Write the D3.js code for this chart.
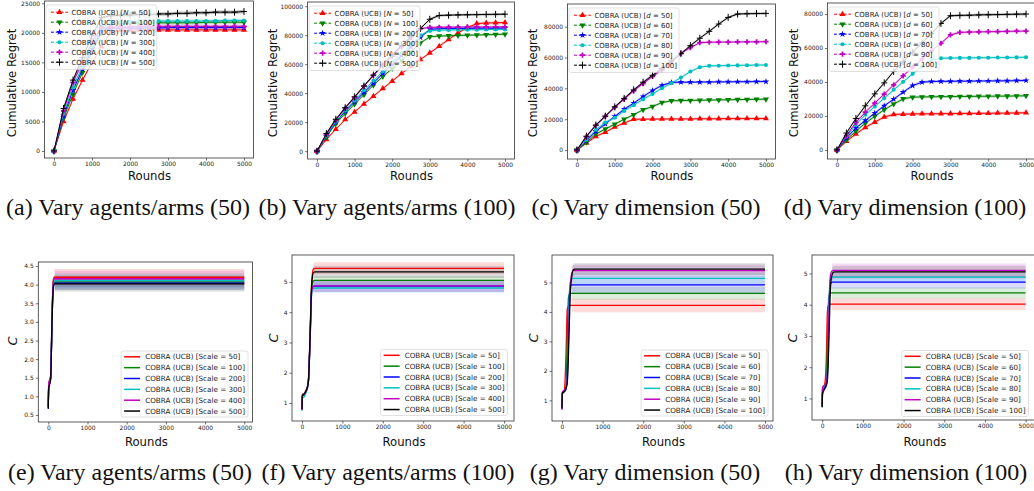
<!DOCTYPE html>
<html>
<meta charset='utf-8'>
<head>
<title>COBRA (UCB) regret and C</title>
<script src='https://d3js.org/d3.v7.min.js'></script>
<style>
body { margin: 0; background: #fff; }
</style>
</head>
<body>
<div id='fig'></div>
<script>

// ---- data ----
// top row: cumulative regret (thousands) every 250 rounds
var rounds = [0, 250, 500, 750, 1000, 1250, 1500, 1750, 2000, 2250, 2500, 2750, 3000, 3250, 3500, 3750, 4000, 4250, 4500, 4750, 5000];
var agentSizes = [50, 100, 200, 300, 400, 500];
var dims = [50, 60, 70, 80, 90, 100];

var regretA = [
  [0, 5.0, 8.8, 12.0, 15.0, 17.7, 20.2, 20.4, 20.4, 20.5, 20.5, 20.5, 20.5, 20.5, 20.5, 20.5, 20.5, 20.5, 20.5, 20.5, 20.5],
  [0, 5.6, 9.6, 13.3, 16.8, 20.0, 21.4, 21.5, 21.6, 21.6, 21.6, 21.7, 21.7, 21.7, 21.7, 21.7, 21.8, 21.8, 21.8, 21.8, 21.8],
  [0, 6.0, 10.3, 13.8, 17.3, 20.3, 20.8, 20.8, 20.8, 20.8, 20.8, 20.8, 20.9, 20.9, 20.9, 20.9, 20.9, 20.9, 20.9, 20.9, 20.9],
  [0, 6.3, 10.8, 14.3, 17.8, 21.0, 21.8, 21.9, 21.9, 22.0, 22.0, 22.0, 22.0, 22.0, 22.0, 22.0, 22.0, 22.0, 22.1, 22.1, 22.1],
  [0, 6.8, 11.6, 15.0, 18.5, 20.9, 21.0, 21.0, 21.0, 21.1, 21.1, 21.1, 21.1, 21.1, 21.1, 21.1, 21.1, 21.1, 21.1, 21.1, 21.1],
  [0, 7.2, 12.0, 15.8, 19.5, 22.6, 22.9, 23.0, 23.0, 23.1, 23.1, 23.2, 23.2, 23.3, 23.3, 23.4, 23.4, 23.5, 23.5, 23.5, 23.6]
];
var regretB = [
  [0, 8.0, 15.2, 21.8, 27.1, 32.6, 37.9, 43.2, 48.3, 53.6, 58.6, 63.2, 67.8, 72.4, 77.0, 81.6, 85.3, 88.0, 88.4, 88.6, 88.7],
  [0, 10.0, 19.0, 26.0, 32.5, 39.0, 45.5, 51.5, 57.0, 62.5, 68.5, 74.7, 78.9, 79.4, 79.6, 79.8, 80.0, 80.1, 80.3, 80.5, 80.7],
  [0, 10.5, 20.0, 27.5, 34.0, 40.5, 47.0, 53.6, 60.0, 66.0, 72.0, 78.4, 84.0, 84.5, 84.6, 84.7, 84.7, 84.8, 84.8, 84.8, 84.9],
  [0, 10.7, 20.5, 28.0, 35.0, 42.0, 48.5, 55.0, 61.5, 67.5, 73.5, 80.0, 83.0, 83.5, 83.6, 83.7, 83.8, 83.8, 83.9, 83.9, 84.0],
  [0, 11.5, 21.5, 29.5, 37.0, 44.8, 52.2, 59.0, 65.5, 72.0, 78.5, 84.5, 85.4, 85.5, 85.6, 85.6, 85.7, 85.7, 85.7, 85.8, 85.8],
  [0, 12.2, 22.0, 30.0, 37.5, 45.0, 52.5, 59.5, 66.5, 73.0, 79.0, 84.6, 91.0, 93.6, 93.8, 94.0, 94.1, 94.2, 94.3, 94.4, 94.5]
];
var regretC = [
  [0, 4.5, 8.8, 11.6, 14.9, 17.5, 20.0, 20.0, 20.1, 20.1, 20.2, 20.2, 20.2, 20.3, 20.3, 20.3, 20.4, 20.4, 20.4, 20.5, 20.5],
  [0, 5.0, 10.4, 13.6, 16.8, 20.0, 22.9, 26.1, 28.2, 30.8, 31.9, 32.1, 32.2, 32.3, 32.4, 32.5, 32.6, 32.7, 32.8, 32.9, 33.0],
  [0, 6.0, 12.1, 17.0, 21.8, 26.5, 30.4, 34.7, 38.6, 42.0, 43.8, 44.0, 44.0, 44.1, 44.1, 44.2, 44.2, 44.3, 44.3, 44.4, 44.4],
  [0, 6.5, 13.2, 17.9, 20.9, 25.4, 29.1, 33.0, 36.4, 40.1, 43.3, 47.0, 50.9, 53.7, 54.6, 54.7, 54.8, 54.9, 55.0, 55.1, 55.2],
  [0, 8.5, 16.0, 21.8, 27.6, 33.0, 38.4, 43.1, 47.7, 52.0, 57.5, 62.7, 66.4, 69.6, 69.9, 70.0, 70.0, 70.1, 70.2, 70.2, 70.3],
  [0, 9.0, 16.2, 22.0, 28.0, 33.5, 39.0, 44.0, 48.5, 53.0, 57.8, 62.5, 67.7, 72.5, 77.0, 81.7, 86.0, 88.2, 88.4, 88.5, 88.6]
];
var regretD = [
  [0, 5.1, 9.4, 13.3, 16.4, 19.4, 20.9, 21.1, 21.2, 21.3, 21.3, 21.4, 21.4, 21.5, 21.5, 21.6, 21.6, 21.7, 21.7, 21.8, 21.9],
  [0, 6.0, 11.0, 15.8, 19.8, 23.7, 27.0, 30.1, 31.1, 31.2, 31.3, 31.4, 31.4, 31.5, 31.5, 31.6, 31.6, 31.7, 31.7, 31.8, 31.9],
  [0, 7.0, 12.9, 17.4, 21.7, 26.0, 29.9, 34.0, 37.9, 39.9, 40.3, 40.4, 40.4, 40.5, 40.5, 40.6, 40.6, 40.7, 40.7, 40.8, 40.9],
  [0, 8.0, 14.9, 20.7, 25.6, 30.5, 35.4, 40.1, 44.8, 49.1, 53.0, 54.0, 54.1, 54.2, 54.2, 54.3, 54.3, 54.4, 54.4, 54.5, 54.6],
  [0, 8.5, 16.2, 22.3, 27.6, 32.9, 38.3, 43.6, 48.7, 53.4, 58.5, 62.8, 67.7, 69.2, 69.4, 69.5, 69.6, 69.7, 69.8, 69.9, 70.0],
  [0, 10.0, 18.5, 26.0, 33.0, 39.5, 46.2, 52.0, 57.5, 63.0, 68.5, 74.5, 79.0, 79.2, 79.3, 79.5, 79.6, 79.7, 79.8, 79.9, 80.0]
];
// half width of the shaded band (thousands)
var bandA = [0.3, 0.3, 0.3, 0.3, 0.3, 0.3];
var bandB = [0.8, 0.8, 0.8, 0.8, 0.8, 0.8];
var bandC = [0.8, 0.8, 0.8, 0.8, 0.8, 0.8];
var bandD = [0.8, 0.8, 0.8, 0.8, 0.8, 0.8];

// bottom row: C over rounds
var cRounds = [0, 10, 60, 100, 130, 160, 200, 240, 280, 320, 5000];
var cE = [
  [0.70, 1.30, 1.55, 3.40, 4.15, 4.20, 4.20, 4.20, 4.20, 4.20, 4.20],
  [0.72, 1.25, 1.50, 3.30, 4.02, 4.07, 4.07, 4.07, 4.07, 4.07, 4.07],
  [0.66, 1.22, 1.48, 3.20, 3.98, 4.04, 4.04, 4.04, 4.04, 4.04, 4.04],
  [0.70, 1.25, 1.50, 3.30, 4.05, 4.11, 4.11, 4.11, 4.11, 4.11, 4.11],
  [0.74, 1.35, 1.55, 3.40, 4.10, 4.16, 4.16, 4.16, 4.16, 4.16, 4.16],
  [0.68, 1.20, 1.45, 3.20, 3.95, 4.02, 4.02, 4.02, 4.02, 4.02, 4.02]
];
var cF = [
  [0.78, 1.28, 1.32, 1.42, 1.52, 1.78, 3.30, 5.00, 5.42, 5.45, 5.45],
  [0.80, 1.25, 1.30, 1.40, 1.50, 1.75, 3.20, 4.80, 5.03, 5.05, 5.05],
  [0.78, 1.22, 1.28, 1.38, 1.48, 1.72, 3.10, 4.70, 4.85, 4.86, 4.86],
  [0.74, 1.15, 1.22, 1.35, 1.45, 1.70, 3.00, 4.60, 4.79, 4.80, 4.80],
  [0.77, 1.25, 1.30, 1.40, 1.50, 1.74, 3.10, 4.70, 4.86, 4.87, 4.87],
  [0.80, 1.25, 1.30, 1.40, 1.50, 1.75, 3.20, 4.90, 5.30, 5.33, 5.33]
];
var cG = [
  [0.72, 1.25, 1.35, 2.60, 4.10, 4.20, 4.22, 4.22, 4.22, 4.22, 4.22],
  [0.70, 1.25, 1.32, 1.45, 3.00, 4.50, 4.62, 4.63, 4.63, 4.63, 4.63],
  [0.72, 1.22, 1.30, 1.40, 1.90, 3.80, 4.85, 4.92, 4.92, 4.92, 4.92],
  [0.72, 1.25, 1.32, 1.42, 1.80, 3.60, 4.95, 5.12, 5.14, 5.14, 5.14],
  [0.68, 1.28, 1.35, 1.45, 1.70, 3.00, 4.80, 5.30, 5.40, 5.40, 5.40],
  [0.75, 1.25, 1.30, 1.40, 1.60, 2.60, 4.50, 5.20, 5.43, 5.45, 5.45]
];
var cH = [
  [0.75, 1.35, 1.45, 2.20, 3.80, 4.02, 4.02, 4.02, 4.02, 4.02, 4.02],
  [0.72, 1.20, 1.35, 1.50, 2.80, 4.20, 4.37, 4.38, 4.38, 4.38, 4.38],
  [0.75, 1.25, 1.35, 1.45, 1.80, 3.60, 4.65, 4.72, 4.72, 4.72, 4.72],
  [0.75, 1.30, 1.40, 1.50, 2.00, 3.80, 4.80, 4.88, 4.88, 4.88, 4.88],
  [0.78, 1.35, 1.42, 1.50, 1.90, 3.50, 4.90, 5.08, 5.10, 5.10, 5.10],
  [0.72, 1.15, 1.30, 1.40, 1.60, 2.60, 4.40, 4.95, 5.04, 5.05, 5.05]
];
var bandE = [0.22, 0.20, 0.18, 0.20, 0.22, 0.20];
var bandF = [0.20, 0.15, 0.20, 0.15, 0.20, 0.20];
var bandG = [0.23, 0.22, 0.30, 0.20, 0.20, 0.20];
var bandH = [0.19, 0.18, 0.20, 0.18, 0.22, 0.20];

// ticks and captions
var xTicks = [0, 1000, 2000, 3000, 4000, 5000];
var yTicksA = [0, 5000, 10000, 15000, 20000, 25000];
var yTicksB = [0, 20000, 40000, 60000, 80000, 100000];
var yTicksCD = [0, 20000, 40000, 60000, 80000];
var yTicksE = [0.5, 1.0, 1.5, 2.0, 2.5, 3.0, 3.5, 4.0, 4.5];
var yTicksFGH = [1, 2, 3, 4, 5];
var captions = ['(a) Vary agents/arms (50)', '(b) Vary agents/arms (100)', '(c) Vary dimension (50)', '(d) Vary dimension (100)',
                '(e) Vary agents/arms (50)', '(f) Vary agents/arms (100)', '(g) Vary dimension (50)', '(h) Vary dimension (100)'];

// ---- drawing ----
var colors = ['#ff0000', '#008000', '#0000ff', '#00bfbf', '#bf00bf', '#000000'];
var markers = ['triUp', 'triDown', 'star', 'circle', 'plus', 'cross'];
var font = "'DejaVu Sans', sans-serif";
var serif = "'Liberation Serif', 'Times New Roman', serif";

var svg = d3.select('#fig').append('svg')
    .attr('width', 1034)
    .attr('height', 491)
    .style('display', 'block');

// font size that makes str about `target` px wide
function fitSize(str, family, target) {
    var t = svg.append('text').attr('font-family', family).attr('font-size', 20).text(str);
    var w = t.node().getComputedTextLength();
    t.remove();
    return 20 * target / w;
}
var fsTick = fitSize('100000', font, 22.7);
var fsLabel = fitSize('Rounds', font, 43);
var fsTopLeg = fitSize('COBRA (UCB) [N = 500]', font, 83.5);
var fsBotLeg = fitSize('COBRA (UCB) [Scale = 500]', font, 100);
var fsCap = fitSize(captions[0], serif, 244);

function drawMarker(g, type, cx, cy, color) {
    if (type === 'cross') {
        g.append('path')
            .attr('d', 'M' + (cx - 3) + ',' + cy + 'H' + (cx + 3) + 'M' + cx + ',' + (cy - 3.5) + 'V' + (cy + 3.5))
            .attr('stroke', color)
            .attr('stroke-width', 1)
        return
    }
    var sym = {triUp: d3.symbolTriangle, triDown: d3.symbolTriangle, star: d3.symbolStar,
               circle: d3.symbolCircle, plus: d3.symbolCross}[type]
    var size = {triUp: 16, triDown: 16, star: 14, circle: 13, plus: 15}[type]
    g.append('path')
        .attr('d', d3.symbol(sym, size)())
        .attr('transform', 'translate(' + cx + ',' + cy + ')' + (type === 'triDown' ? ' rotate(180)' : ''))
        .attr('fill', color)
}

function drawPanel(p) {
    var x = d3.scaleLinear().domain(p.xd).range([p.l, p.r]);
    var y = d3.scaleLinear().domain(p.yd).range([p.b, p.t]);
    var g = svg.append('g');

    var cid = 'clip-' + p.id;
    svg.append('clipPath').attr('id', cid).append('rect')
        .attr('x', p.l).attr('y', p.t)
        .attr('width', p.r - p.l).attr('height', p.b - p.t);
    var plot = g.append('g').attr('clip-path', 'url(#' + cid + ')');
    var curve = p.top ? d3.curveLinear : d3.curveMonotoneX;

    // bands
    p.series.forEach(function(vals, i) {
        var bw = p.band[i] * p.unit;
        var pts = vals.map(function(v, j) { return [p.xs[j], v * p.unit] }).slice(p.bandFrom);
        plot.append('path')
            .datum(pts)
            .attr('fill', colors[i])
            .attr('fill-opacity', p.top ? 0.25 : 0.14)
            .attr('d', d3.area().curve(curve)
                .x(function(d) { return x(d[0]) })
                .y0(function(d) { return y(d[1] - bw) })
                .y1(function(d) { return y(d[1] + bw) }));
    });

    // lines (+ markers)
    p.series.forEach(function(vals, i) {
        var pts = vals.map(function(v, j) { return [p.xs[j], v * p.unit] });
        plot.append('path')
            .datum(pts)
            .attr('fill', 'none')
            .attr('stroke', colors[i])
            .attr('stroke-width', p.top ? 1 : 1.3)
            .attr('stroke-linejoin', 'round')
            .attr('d', d3.line().curve(curve)
                .x(function(d) { return x(d[0]) })
                .y(function(d) { return y(d[1]) }));
        if (p.top) {
            pts.forEach(function(d) { drawMarker(plot, markers[i], x(d[0]), y(d[1]), colors[i]) });
        }
    });

    // frame
    g.append('rect')
        .attr('x', p.l).attr('y', p.t)
        .attr('width', p.r - p.l).attr('height', p.b - p.t)
        .attr('fill', 'none')
        .attr('stroke', '#333')
        .attr('stroke-width', 0.8);

    // axes
    var xa = g.append('g')
        .attr('transform', 'translate(0,' + p.b + ')')
        .call(d3.axisBottom(x).tickValues(xTicks).tickSize(2.5).tickPadding(1.5).tickFormat(d3.format('d')));
    var ya = g.append('g')
        .attr('transform', 'translate(' + p.l + ',0)')
        .call(d3.axisLeft(y).tickValues(p.yTicks).tickSize(2.5).tickPadding(2).tickFormat(d3.format(p.yFmt)));
    [xa, ya].forEach(function(a) {
        a.attr('font-family', font).attr('font-size', fsTick);
        a.select('.domain').remove();
        a.selectAll('line').attr('stroke', '#333').attr('stroke-width', 0.7);
        a.selectAll('text').attr('fill', '#222');
    });

    // axis labels
    g.append('text')
        .text('Rounds')
        .attr('x', (p.l + Math.min(p.r, 1036)) / 2 + (p.top ? 0.5 : 1))
        .attr('y', p.top ? 180 : 446)
        .attr('text-anchor', 'middle')
        .attr('font-family', font)
        .attr('font-size', fsLabel)
        .attr('fill', '#111');
    var yl = g.append('text')
        .attr('transform', 'translate(' + p.ylabX + ',' + p.ylabY + ') rotate(-90)')
        .attr('text-anchor', 'middle')
        .attr('dy', '0.36em')
        .attr('font-family', font)
        .attr('fill', '#111');
    if (p.top) {
        yl.attr('font-size', fsLabel).text('Cumulative Regret');
    } else {
        yl.attr('font-size', 13).attr('font-style', 'italic').text('C');
    }

    // legend
    var lg = g.append('g');
    var box = lg.append('rect')
        .attr('fill', '#fff')
        .attr('fill-opacity', 0.8)
        .attr('stroke', '#ccc')
        .attr('stroke-width', 0.6)
        .attr('rx', 2);
    var rowH = p.top ? 10 : 10.85, first = p.top ? 7.2 : 5.8, fs = p.top ? fsTopLeg : fsBotLeg;
    var textX = p.top ? 25.5 : 24;
    var maxLen = 0;
    p.legVals.forEach(function(v, i) {
        var cy = first + i * rowH;
        lg.append('line')
            .attr('x1', p.top ? 5 : 3).attr('x2', p.top ? 22 : 19)
            .attr('y1', cy).attr('y2', cy)
            .attr('stroke', colors[i])
            .attr('stroke-width', p.top ? 1 : 1.5)
            .attr('stroke-dasharray', p.top ? '3,1.8' : null);
        if (p.top) drawMarker(lg, markers[i], 13.5, cy, colors[i]);
        var t = lg.append('text')
            .attr('x', textX)
            .attr('y', cy + fs * 0.36)
            .attr('font-family', font)
            .attr('font-size', fs)
            .attr('fill', '#222');
        if (p.legVar) {
            t.append('tspan').text('COBRA (UCB) [');
            t.append('tspan').attr('font-style', 'italic').text(p.legVar);
            t.append('tspan').text(' = ' + v + ']');
        } else {
            t.text('COBRA (UCB) [Scale = ' + v + ']');
        }
        maxLen = Math.max(maxLen, t.node().getComputedTextLength());
    });
    var lw = textX + maxLen + (p.top ? 2 : 3);
    var lh = p.top ? 64.5 : 66;
    box.attr('width', lw).attr('height', lh);
    if (p.top) {
        lg.attr('transform', 'translate(' + (p.l + 1.5) + ',' + (p.t + 4) + ')');
    } else {
        lg.attr('transform', 'translate(' + (p.legR - lw) + ',' + (p.legB - lh) + ')');
    }

    // caption
    svg.append('text')
        .text(p.caption)
        .attr('x', p.capX)
        .attr('y', p.capY)
        .attr('text-anchor', 'middle')
        .attr('font-family', serif)
        .attr('font-size', fsCap)
        .attr('fill', '#111');
}

var panels = [
    {id: 'a', top: true, l: 44.5, r: 253.5, t: 1, b: 158, xd: [-250, 5250], yd: [-1185, 25390],
     xs: rounds, series: regretA, band: bandA, bandFrom: 0, unit: 1000, yTicks: yTicksA, yFmt: 'd',
     legVals: agentSizes, legVar: 'N', ylabX: 12, ylabY: 83, caption: captions[0], capX: 128, capY: 215},
    {id: 'b', top: true, l: 307.6, r: 514.4, t: 2, b: 159, xd: [-250, 5250], yd: [-5400, 102900],
     xs: rounds, series: regretB, band: bandB, bandFrom: 0, unit: 1000, yTicks: yTicksB, yFmt: 'd',
     legVals: agentSizes, legVar: 'N', ylabX: 273, ylabY: 83, caption: captions[1], capX: 387, capY: 215},
    {id: 'c', top: true, l: 567.5, r: 775.4, t: 4, b: 159, xd: [-250, 5250], yd: [-5800, 94700],
     xs: rounds, series: regretC, band: bandC, bandFrom: 0, unit: 1000, yTicks: yTicksCD, yFmt: 'd',
     legVals: dims, legVar: 'd', ylabX: 533, ylabY: 83, caption: captions[2], capX: 646, capY: 215},
    {id: 'd', top: true, l: 827.5, r: 1035.5, t: 3, b: 159, xd: [-250, 5250], yd: [-5300, 86500],
     xs: rounds, series: regretD, band: bandD, bandFrom: 0, unit: 1000, yTicks: yTicksCD, yFmt: 'd',
     legVals: dims, legVar: 'd', ylabX: 794, ylabY: 83, caption: captions[3], capX: 905, capY: 215},
    {id: 'e', top: false, l: 38.3, r: 252.5, t: 262, b: 422, xd: [-255, 5210], yd: [0.31, 4.61],
     xs: cRounds, series: cE, band: bandE, bandFrom: 5, unit: 1, yTicks: yTicksE, yFmt: '.1f',
     legVals: agentSizes, legVar: null, legR: 248, legB: 417, ylabX: 12, ylabY: 341, caption: captions[4], capX: 130, capY: 480},
    {id: 'f', top: false, l: 292, r: 514, t: 255, b: 421, xd: [-247.5, 5247.5], yd: [0.405, 5.89],
     xs: cRounds, series: cF, band: bandF, bandFrom: 8, unit: 1, yTicks: yTicksFGH, yFmt: 'd',
     legVals: agentSizes, legVar: null, legR: 507.5, legB: 415.5, ylabX: 273, ylabY: 338, caption: captions[5], capX: 388, capY: 480},
    {id: 'g', top: false, l: 552, r: 773, t: 255, b: 421, xd: [-246, 5197], yd: [0.30, 5.93],
     xs: cRounds, series: cG, band: bandG, bandFrom: 7, unit: 1, yTicks: yTicksFGH, yFmt: 'd',
     legVals: dims, legVar: null, legR: 768, legB: 416, ylabX: 533, ylabY: 338, caption: captions[6], capX: 645, capY: 480},
    {id: 'h', top: false, l: 812, r: 1035.8, t: 255, b: 420, xd: [-250, 5250], yd: [0.31, 5.59],
     xs: cRounds, series: cH, band: bandH, bandFrom: 7, unit: 1, yTicks: yTicksFGH, yFmt: 'd',
     legVals: dims, legVar: null, legR: 1028.5, legB: 416.5, ylabX: 792, ylabY: 338, caption: captions[7], capX: 906, capY: 480}
];

panels.forEach(drawPanel);

</script>
</body>
</html>
